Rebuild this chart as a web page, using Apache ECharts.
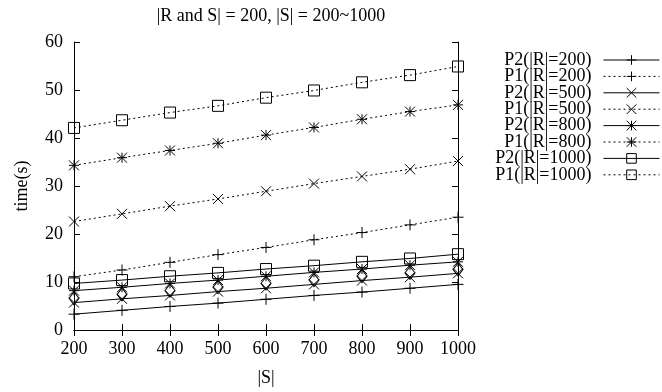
<!DOCTYPE html>
<html>
<head>
<meta charset="utf-8">
<script src="https://cdn.jsdelivr.net/npm/echarts@6/dist/echarts.min.js"></script>
<style>html,body{margin:0;padding:0;background:#fff}#c{width:662px;height:392px}</style>
</head>
<body>
<div id="c"></div>
<script>
var sizes = [200, 300, 400, 500, 600, 700, 800, 900, 1000];
var p2_200  = [3.3, 4.1, 4.9, 5.6, 6.4, 7.2, 7.9, 8.7, 9.5];
var p1_200  = [11.1, 12.5, 14.1, 15.7, 17.2, 18.8, 20.3, 21.9, 23.5];
var p2_500  = [5.7, 6.5, 7.2, 8.0, 8.7, 9.5, 10.3, 11.0, 11.8];
var p1_500  = [22.6, 24.2, 25.8, 27.3, 28.9, 30.5, 32.0, 33.5, 35.2];
var p2_800  = [8.2, 8.9, 9.7, 10.4, 11.2, 12.0, 12.7, 13.5, 14.2];
var p1_800  = [34.3, 35.9, 37.4, 38.9, 40.6, 42.2, 43.9, 45.5, 46.9];
var p2_1000 = [9.7, 10.4, 11.2, 11.9, 12.7, 13.4, 14.2, 14.9, 15.8];
var p1_1000 = [42.1, 43.7, 45.3, 46.7, 48.4, 49.9, 51.6, 53.1, 54.9];
var extraDiamond = [6.6, 7.4, 8.2, 8.9, 9.7, 10.4, 11.2, 11.9, 12.6];
var names = ['P2(|R|=200)', 'P1(|R|=200)', 'P2(|R|=500)', 'P1(|R|=500)',
             'P2(|R|=800)', 'P1(|R|=800)', 'P2(|R|=1000)', 'P1(|R|=1000)'];
var yTicks = [0, 10, 20, 30, 40, 50, 60];

var FONT = 'Liberation Serif';
var SYM = {
  plus: 'path://M0,5L10,5M5,0L5,10',
  cross: 'path://M0,0L10,10M10,0L0,10',
  star: 'path://M0,5L10,5M5,0L5,10M0,0L10,10M10,0L0,10',
  square: 'path://M0,0L10,0L10,10L0,10Z',
  diamond: 'path://M5,0L10,6L5,12L0,6Z'
};
function pairs(vals) { return sizes.map(function (s, i) { return [s, vals[i]]; }); }
function mk(name, vals, sym, size, dotted) {
  return {
    name: name, type: 'line', data: pairs(vals),
    symbol: sym, symbolSize: size, showAllSymbol: true,
    itemStyle: { color: 'none', borderColor: '#000', borderWidth: 1, borderType: 'solid' },
    lineStyle: { color: '#000', width: 1, type: dotted ? [2, 3] : 'solid' },
    emphasis: { disabled: true }, animation: false, z: 2
  };
}
var series = [
  mk(names[0], p2_200, SYM.plus, 11, false),
  mk(names[1], p1_200, SYM.plus, 11, true),
  mk(names[2], p2_500, SYM.cross, 10, false),
  mk(names[3], p1_500, SYM.cross, 10, true),
  mk(names[4], p2_800, SYM.star, 10, false),
  mk(names[5], p1_800, SYM.star, 10, true),
  mk(names[6], p2_1000, SYM.square, 11, false),
  mk(names[7], p1_1000, SYM.square, 11, true)
];
var dia = mk('extra', extraDiamond, SYM.diamond, [10, 13], false);
dia.lineStyle.width = 0;
dia.lineStyle.opacity = 0;
series.push(dia);

var legends = names.map(function (n, i) {
  return {
    data: [n], right: 2, top: 51 + i * 16.4, orient: 'vertical', align: 'right',
    itemWidth: 56, itemHeight: 12, itemGap: 0, padding: 0, selectedMode: false,
    textStyle: { fontFamily: FONT, fontSize: 18, color: '#000', padding: [0, 7, 0, 0] },
    itemStyle: { borderWidth: 1, borderColor: '#000', color: 'none', borderType: 'solid' },
    lineStyle: { width: 1 }
  };
});

var axisCommon = {
  type: 'value',
  axisLine: { show: true, lineStyle: { color: '#000', width: 1 } },
  axisTick: { show: true, inside: true, length: 6, lineStyle: { color: '#000' } },
  splitLine: { show: false }
};
var chart = echarts.init(document.getElementById('c'), null, { renderer: 'canvas' });
chart.setOption({
  animation: false,
  backgroundColor: '#fff',
  title: {
    text: '|R and S| = 200, |S| = 200~1000', left: 266, top: 2, textAlign: 'center',
    textStyle: { fontFamily: FONT, fontSize: 18, fontWeight: 'normal', color: '#000' }
  },
  legend: legends,
  grid: { left: 74, right: 204, top: 42, bottom: 62, containLabel: false },
  xAxis: [
    Object.assign({}, axisCommon, {
      position: 'bottom', min: 200, max: 1000, interval: 100,
      axisLabel: { fontFamily: FONT, fontSize: 18, color: '#000', margin: 10,
        formatter: function (v) { return String(v); } },
      name: '|S|', nameLocation: 'middle', nameGap: 39,
      nameTextStyle: { fontFamily: FONT, fontSize: 18, color: '#000' }
    }),
    Object.assign({}, axisCommon, {
      position: 'top', min: 200, max: 1000, interval: 100, axisLabel: { show: false }
    })
  ],
  yAxis: [
    Object.assign({}, axisCommon, {
      position: 'left', min: 0, max: 60, interval: 10,
      axisLabel: { fontFamily: FONT, fontSize: 18, color: '#000', margin: 11,
        formatter: function (v) { return yTicks.indexOf(v) >= 0 ? String(v) : ''; } },
      name: 'time(s)', nameLocation: 'middle', nameGap: 43,
      nameTextStyle: { fontFamily: FONT, fontSize: 18, color: '#000' }
    }),
    Object.assign({}, axisCommon, {
      position: 'right', min: 0, max: 60, interval: 10, axisLabel: { show: false }
    })
  ],
  series: series
});
</script>
</body>
</html>
